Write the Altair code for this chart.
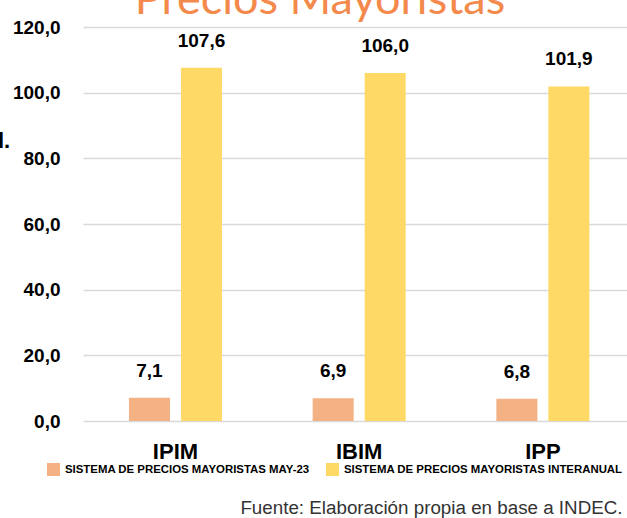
import altair as alt
import pandas as pd

categories = ["IPIM", "IBIM", "IPP"]
series_names = ["SISTEMA DE PRECIOS MAYORISTAS MAY-23", "SISTEMA DE PRECIOS MAYORISTAS INTERANUAL"]
may23 = [7.1, 6.9, 6.8]
interanual = [107.6, 106.0, 101.9]
colors = ["#F4B183", "#FFD966"]
y_ticks = [0, 20, 40, 60, 80, 100, 120]

rows = []
for i, c in enumerate(categories):
    rows.append({"cat": c, "serie": series_names[0], "valor": may23[i]})
    rows.append({"cat": c, "serie": series_names[1], "valor": interanual[i]})
df = pd.DataFrame(rows)

BOLD = "'Liberation Sans', Arial, sans-serif"

x_enc = alt.X(
    "cat:N", sort=categories,
    scale=alt.Scale(paddingInner=0.4937, paddingOuter=0.2275, align=0.55),
    axis=alt.Axis(
        title="Fuente: Elaboración propia en base a INDEC.",
        titleFont="Liberation Sans", titleFontSize=18.8, titleFontWeight="normal",
        titleColor="#333333", titleAnchor="end", titleAlign="right",
        titleBaseline="alphabetic", titleX=539, titleY=92,
        labelFont=BOLD, labelFontSize=22, labelFontWeight="bold", labelColor="#000000",
        labelBaseline="alphabetic", labelPadding=37, labelAngle=0,
        domain=False, ticks=False, grid=False,
    ),
)
xoff_enc = alt.XOffset("serie:N", sort=series_names,
                       scale=alt.Scale(paddingInner=0.2115, paddingOuter=0))

bars = alt.Chart(df).mark_bar().encode(
    x=x_enc,
    xOffset=xoff_enc,
    y=alt.Y("valor:Q", scale=alt.Scale(domain=[0, 120], nice=False),
            axis=alt.Axis(title=None, values=y_ticks,
                          labelExpr="replace(format(datum.value, '.1f'), '.', ',')",
                          labelFont=BOLD, labelFontSize=19, labelFontWeight="bold",
                          labelColor="#000000", labelPadding=23,
                          domain=False, ticks=False,
                          gridColor="#D9D9D9", gridWidth=1.6)),
    color=alt.Color("serie:N", sort=series_names,
                    scale=alt.Scale(domain=series_names, range=colors),
                    legend=alt.Legend(title=None, orient="none", direction="horizontal",
                                      legendX=-36, legendY=436,
                                      symbolType="square", symbolSize=169,
                                      symbolStrokeWidth=0, labelFont=BOLD,
                                      labelFontSize=11.4, labelFontWeight="bold",
                                      labelColor="#000000", labelOffset=5,
                                      labelLimit=400, columnPadding=16)),
)

labels = alt.Chart(df).transform_calculate(
    lab="replace(format(datum.valor, '.1f'), '.', ',')"
).mark_text(font=BOLD, fontSize=19, fontWeight="bold", color="#000000",
            baseline="alphabetic", dy=-21).encode(
    x=alt.X("cat:N", sort=categories),
    xOffset=alt.XOffset("serie:N", sort=series_names),
    y="valor:Q",
    text="lab:N",
)

stray = alt.Chart(pd.DataFrame({"t": ["l."]})).mark_text(
    font=BOLD, fontSize=22, fontWeight="bold", color="#000000",
    align="left", baseline="alphabetic"
).encode(x=alt.value(-85), y=alt.value(121), text="t:N")

chart = alt.layer(bars, labels, stray).properties(
    width=544, height=394,
    autosize=alt.AutoSizeParams(type="none"),
    padding={"left": 83, "top": 27, "right": 0, "bottom": 97},
    title=alt.TitleParams("Precios Mayoristas", font="Lato", fontSize=45,
                          fontWeight="normal", color="#F4894C", anchor="middle",
                          baseline="alphabetic", offset=0, dx=-35, dy=41),
).configure_view(stroke=None)

chart.save("out.html", embed_options={"renderer": "svg", "actions": False})
